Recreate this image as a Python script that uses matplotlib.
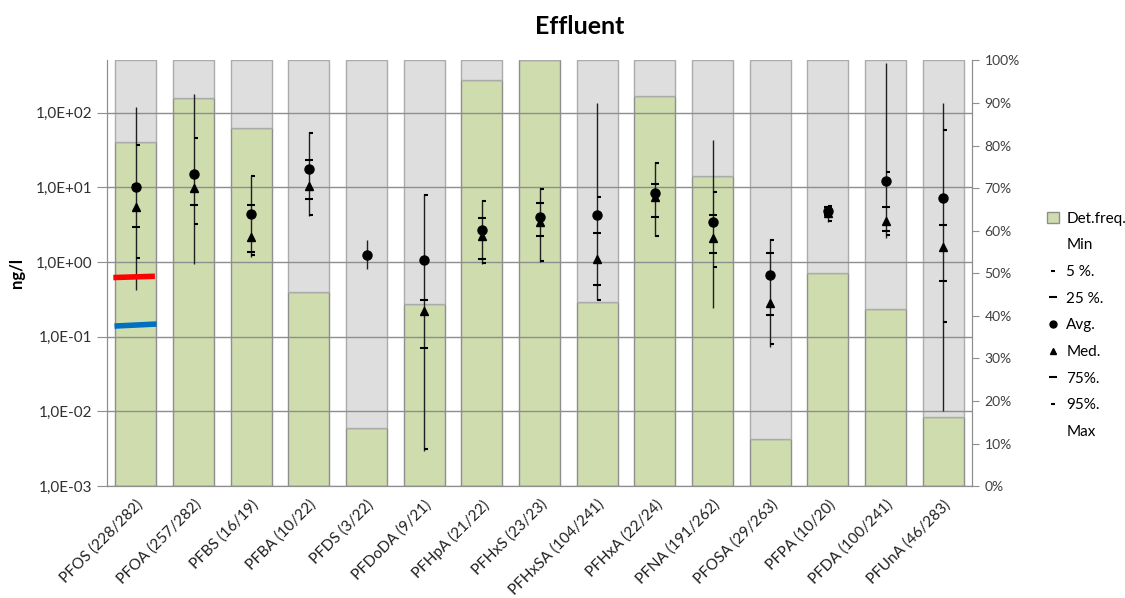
import matplotlib.pyplot as plt
import matplotlib.transforms as mtransforms
from matplotlib.lines import Line2D
from matplotlib.patches import Patch
import numpy as np

plt.rcParams['font.family'] = ['Lato', 'DejaVu Sans']

nan = np.nan
labels = ['PFOS (228/282)', 'PFOA (257/282)', 'PFBS (16/19)', 'PFBA (10/22)',
          'PFDS (3/22)', 'PFDoDA (9/21)', 'PFHpA (21/22)', 'PFHxS (23/23)',
          'PFHxSA (104/241)', 'PFHxA (22/24)', 'PFNA (191/262)', 'PFOSA (29/263)',
          'PFPA (10/20)', 'PFDA (100/241)', 'PFUnA (46/283)']
det_freq = [80.9, 91.1, 84.2, 45.5, 13.6, 42.9, 95.5, 100.0,
            43.2, 91.7, 72.9, 11.0, 50.0, 41.5, 16.3]

v_min = [0.42, 0.94, 1.18, 4.1, 0.81, 0.003, 0.94, 1.0,
         0.31, 2.2, 0.24, 0.073, 3.4, 2.1, 0.0102]
p05 = [1.15, 3.2, 1.26, 4.2, nan, 0.0031, 0.96, 1.02,
       0.31, 2.25, 0.86, 0.08, 3.5, 2.3, 0.157]
p25 = [2.98, 5.75, 1.38, 7.05, nan, 0.07, 1.1, 2.2,
       0.5, 3.98, 1.32, 0.196, 4.2, 2.6, 0.56]
avg = [10.1, 15.0, 4.37, 17.5, 1.25, 1.05, 2.7, 4.05,
       4.3, 8.3, 3.48, 0.68, 4.8, 12.1, 7.2]
med = [5.5, 9.8, 2.15, 10.5, nan, 0.22, 2.26, 3.4,
       1.1, 7.5, 2.09, 0.28, 4.6, 3.5, 1.57]
p75 = [10.7, 14.5, 5.86, 23.3, nan, 0.31, 3.86, 6.1,
       2.46, 11.1, 4.27, 1.32, 5.4, 5.5, 3.14]
p95 = [37.4, 45.4, 14.0, 54.0, nan, 7.9, 6.6, 9.5,
       7.4, 21.0, 8.7, 1.95, 5.7, 16.1, 59.0]
v_max = [118, 177, 14.2, 55, 1.98, 8.1, 6.8, 9.8,
         136, 21.5, 42.4, 2.03, 5.75, 464, 136]

red_line = [0.62, 0.645]
blue_line = [0.139, 0.148]

x = np.arange(len(labels))
green = '#CFDDAE'
grey = '#DEDEDE'

fig = plt.figure(figsize=(11.25, 5.98), dpi=100)
ax = fig.add_axes([0.0951, 0.187, 0.769, 0.712])
ax2 = ax.twinx()
ax.set_zorder(ax2.get_zorder() + 1)
ax.patch.set_visible(False)

# detection frequency bars (right axis)
ax2.bar(x, det_freq, width=0.71, color=green, edgecolor='#8E8E8E', linewidth=1)
ax2.bar(x, 100 - np.array(det_freq), bottom=det_freq, width=0.71, color=grey,
        edgecolor='#ABABAB', linewidth=1)
ax2.set_ylim(0, 100)
ax2.set_yticks(np.arange(0, 101, 10))
ax2.set_yticklabels([f'{t}%' for t in range(0, 101, 10)])
ax2.tick_params(axis='y', direction='out', length=5, color='#8E8E8E',
                labelsize=10, labelcolor='#404040', pad=4)

# concentration statistics (left axis)
ax.set_yscale('log')
ax.set_ylim(1e-3, 500)
ax.set_xlim(-0.5, len(labels) - 0.5)
yt = [1e-3, 1e-2, 1e-1, 1e0, 1e1, 1e2]
ax.set_yticks(yt)
ax.set_yticklabels(['1,0E-03', '1,0E-02', '1,0E-01', '1,0E+00', '1,0E+01', '1,0E+02'])
ax.yaxis.set_minor_locator(plt.NullLocator())
ax.tick_params(axis='y', direction='out', length=7, color='#8E8E8E',
               labelsize=11, labelcolor='#303030')
ax.grid(axis='y', color='#8E8E8E', linewidth=1)
ax.set_axisbelow(True)

ax.vlines(x, v_min, v_max, color='#202020', linewidth=1, zorder=3)
right = mtransforms.offset_copy(ax.transData, fig=fig, x=1.5, y=0, units='points')
ax.plot(x, p05, linestyle='none', marker='_', markersize=3.5, mew=1.5,
        color='black', transform=right, zorder=4)
ax.plot(x, p95, linestyle='none', marker='_', markersize=3.5, mew=1.5,
        color='black', transform=right, zorder=4)
ax.plot(x, p25, linestyle='none', marker='_', markersize=6, mew=1.5, color='black', zorder=4)
ax.plot(x, p75, linestyle='none', marker='_', markersize=6, mew=1.5, color='black', zorder=4)
ax.plot(x, avg, linestyle='none', marker='o', markersize=6.5, color='black', zorder=5)
ax.plot(x, med, linestyle='none', marker='^', markersize=6, color='black', zorder=5)

ax.plot([x[0] - 0.39, x[0] + 0.33], red_line, color='#FF0000', linewidth=4,
        solid_capstyle='butt', zorder=6)
ax.plot([x[0] - 0.37, x[0] + 0.36], blue_line, color='#0070C0', linewidth=4,
        solid_capstyle='butt', zorder=6)

ax.set_xticks(x)
ax.set_xticklabels(labels, rotation=45, ha='right', rotation_mode='anchor',
                   fontsize=11, color='#202020')
ax.tick_params(axis='x', length=0, pad=8)

for a in (ax, ax2):
    a.spines['top'].set_visible(False)
    for s in ('left', 'right', 'bottom'):
        a.spines[s].set_color('#8E8E8E')

ax.set_ylabel('ng/l', fontsize=12, fontweight='bold', labelpad=8)
fig.text(0.5156, 0.955, 'Effluent', fontsize=18, fontweight='bold',
         ha='center', va='center')

handles = [
    Patch(facecolor=green, edgecolor='#8E8E8E'),
    Line2D([], [], linestyle='none'),
    Line2D([], [], linestyle='none', marker='_', markersize=3.5, mew=1.5, color='black'),
    Line2D([], [], linestyle='none', marker='_', markersize=6, mew=1.5, color='black'),
    Line2D([], [], linestyle='none', marker='o', markersize=5, color='black'),
    Line2D([], [], linestyle='none', marker='^', markersize=5, color='black'),
    Line2D([], [], linestyle='none', marker='_', markersize=6, mew=1.5, color='black'),
    Line2D([], [], linestyle='none', marker='_', markersize=3.5, mew=1.5, color='black'),
    Line2D([], [], linestyle='none'),
]
names = ['Det.freq.', 'Min', '5 %.', '25 %.', 'Avg.', 'Med.', '75%.', '95%.', 'Max']
fig.legend(handles, names, loc='center left', bbox_to_anchor=(0.918, 0.456),
           frameon=False, fontsize=11, handlelength=0.8, handletextpad=0.5,
           labelspacing=0.83)

fig.savefig('out.png', dpi=100)
